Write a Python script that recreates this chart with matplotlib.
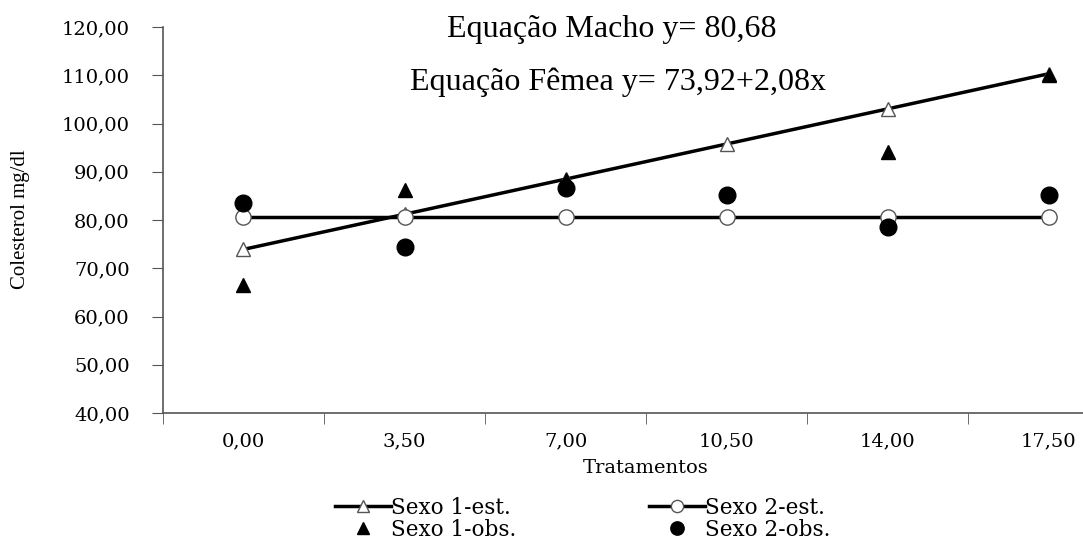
import matplotlib.pyplot as plt
import numpy as np

plt.rcParams['font.family'] = ['DejaVu Serif']

# tratamentos (categorias)
tratamentos = ['0,00', '3,50', '7,00', '10,50', '14,00', '17,50']
doses = [0.0, 3.5, 7.0, 10.5, 14.0, 17.5]

# valores estimados
sexo1_est = [73.92 + 2.08 * d for d in doses]
sexo2_est = [80.68] * 6

sexo1_obs = [66.5, 86.2, 88.3, np.nan, 94.1, 110.0]
sexo2_obs = [83.5, 74.5, 86.6, 85.1, 78.6, 85.1]

yticks = [40, 50, 60, 70, 80, 90, 100, 110, 120]

fig = plt.figure(figsize=(10.83, 5.42), dpi=100)
ax = fig.add_axes([0.1505, 0.238, 0.892, 0.712])

x = np.arange(len(tratamentos))
l1, = ax.plot(x, sexo1_est, color='black', lw=2.5, marker='^', markersize=10,
              markerfacecolor='white', markeredgecolor='#555555', markeredgewidth=1,
              label='Sexo 1-est.')
l2, = ax.plot(x, sexo2_est, color='black', lw=2.5, marker='o', markersize=11,
              markerfacecolor='white', markeredgecolor='#555555', markeredgewidth=1,
              label='Sexo 2-est.')
l3, = ax.plot(x, sexo1_obs, ls='none', marker='^', markersize=10, color='black',
              label='Sexo 1-obs.')
l4, = ax.plot(x, sexo2_obs, ls='none', marker='o', markersize=12, color='black',
              label='Sexo 2-obs.')

ax.set_xlim(-0.5, len(tratamentos) - 0.5)
ax.set_ylim(40, 120)
ax.set_yticks(yticks)
ax.set_yticklabels([f'{v},00' for v in yticks], fontsize=14)
ax.set_xticks(x)
ax.set_xticklabels(tratamentos, fontsize=14)
ax.set_xticks(np.arange(len(tratamentos)) - 0.5, minor=True)
ax.tick_params(axis='x', which='major', length=0, pad=14)
ax.tick_params(axis='x', which='minor', length=8, direction='out', color='#555555')
ax.tick_params(axis='y', length=8, direction='out', color='#555555', pad=16)
for s in ['top', 'right']:
    ax.spines[s].set_visible(False)
for s in ['left', 'bottom']:
    ax.spines[s].set_color('#555555')
    ax.spines[s].set_linewidth(1.2)

ax.set_xlabel('Tratamentos', fontsize=14, labelpad=6)
fig.text(0.019, 0.595, 'Colesterol mg/dl', fontsize=15, rotation=90,
         ha='center', va='center', family='Liberation Serif')

fig.text(0.565, 0.945, 'Equação Macho y= 80,68', fontsize=23, ha='center', va='center',
         family='Liberation Serif')
fig.text(0.571, 0.848, 'Equação Fêmea y= 73,92+2,08x', fontsize=23, ha='center', va='center',
         family='Liberation Serif')

fig.legend(handles=[l1, l3, l2, l4], ncol=2, loc='center', bbox_to_anchor=(0.538, 0.043),
           frameon=False, fontsize=15.5, handlelength=2.6, handletextpad=0.0,
           columnspacing=6.2, labelspacing=0.0, borderpad=0, markerscale=0.8)

fig.savefig('out.png', dpi=100)
